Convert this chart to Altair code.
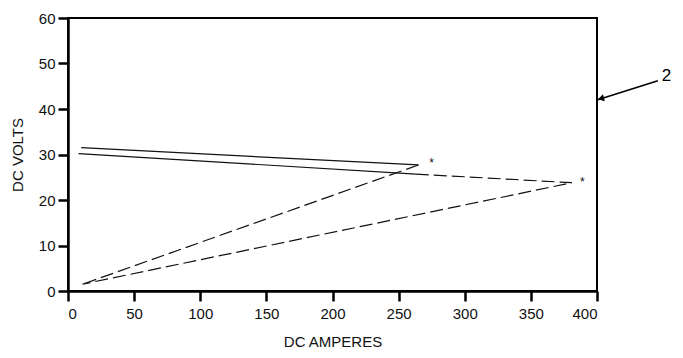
import altair as alt
import pandas as pd

# Solid portions of the two curves
solid_curve = ["A", "A", "B", "B"]
solid_amps = [10, 265, 8, 263]
solid_volts = [31.5, 27.7, 30.2, 25.7]
solid_order = [0, 1, 0, 1]

# Dashed portions of the two curves
dash_curve = ["A", "A", "B", "B", "B"]
dash_amps = [265, 11, 263, 381, 11]
dash_volts = [27.7, 1.5, 25.7, 23.8, 1.5]
dash_order = [0, 1, 0, 1, 2]

# Asterisk markers
star_amps = [275, 389]
star_volts = [28.2, 23.9]

# Callout "2" with arrow
callout_amps = [446, 400]
callout_volts = [46.2, 42.0]
label_amps = [449]
label_volts = [47.3]
label_text = ["2"]
head_amps = [403]
head_volts = [42.3]

x_ticks = list(range(0, 401, 25))
y_ticks = list(range(0, 61, 5))

solid_df = pd.DataFrame({"curve": solid_curve, "amps": solid_amps, "volts": solid_volts, "ord": solid_order})
dash_df = pd.DataFrame({"curve": dash_curve, "amps": dash_amps, "volts": dash_volts, "ord": dash_order})
star_df = pd.DataFrame({"amps": star_amps, "volts": star_volts, "t": ["*"] * len(star_amps)})
callout_df = pd.DataFrame({"amps": callout_amps, "volts": callout_volts})
label_df = pd.DataFrame({"amps": label_amps, "volts": label_volts, "t": label_text})
head_df = pd.DataFrame({"amps": head_amps, "volts": head_volts})

xscale = alt.Scale(domain=[0, 400], nice=False, zero=False)
yscale = alt.Scale(domain=[0, 60], nice=False, zero=False)

xenc = alt.X("amps:Q", scale=xscale, title="DC AMPERES",
             axis=alt.Axis(values=x_ticks, labelExpr="datum.value % 50 == 0 ? datum.label : ''"))
yenc = alt.Y("volts:Q", scale=yscale, title="DC VOLTS",
             axis=alt.Axis(values=y_ticks, labelExpr="datum.value % 10 == 0 ? datum.label : ''"))

solid = alt.Chart(solid_df).mark_line(color="#111", strokeWidth=1.2).encode(
    x=xenc, y=yenc, detail="curve:N", order="ord:Q")

dashed = alt.Chart(dash_df).mark_line(color="#111", strokeWidth=1.2, strokeDash=[13, 5]).encode(
    x="amps:Q", y="volts:Q", detail="curve:N", order="ord:Q")

stars = alt.Chart(star_df).mark_text(fontSize=12, font="Liberation Sans", color="#111").encode(
    x="amps:Q", y="volts:Q", text="t:N")

callout = alt.Chart(callout_df).mark_line(color="black", strokeWidth=1.6, clip=False).encode(
    x="amps:Q", y="volts:Q")

head = alt.Chart(head_df).mark_point(shape="triangle-left", filled=True, color="black",
                                     size=50, angle=345, opacity=1, clip=False).encode(
    x="amps:Q", y="volts:Q")

label = alt.Chart(label_df).mark_text(fontSize=17, font="Liberation Sans", align="left",
                                      color="black", clip=False).encode(
    x="amps:Q", y="volts:Q", text="t:N")

chart = alt.layer(solid, dashed, stars, callout, head, label).properties(
    width=529, height=273,
    autosize=alt.AutoSizeParams(type="none"),
    padding={"left": 60, "top": 10, "right": 78, "bottom": 59},
).configure_view(
    stroke="black", strokeWidth=2
).configure_axis(
    grid=False,
    domainColor="black", domainWidth=2.5,
    tickColor="black", tickWidth=2.5, tickSize=10,
    labelFont="Liberation Sans", labelFontSize=15, labelColor="#111",
    titleFont="Liberation Sans", titleFontSize=15, titleFontWeight="normal", titleColor="#111",
).configure_axisX(
    labelPadding=5, titlePadding=13
).configure_axisY(
    labelPadding=3, titlePadding=13
)

chart.save("out.html", embed_options={"renderer": "svg", "actions": False})
